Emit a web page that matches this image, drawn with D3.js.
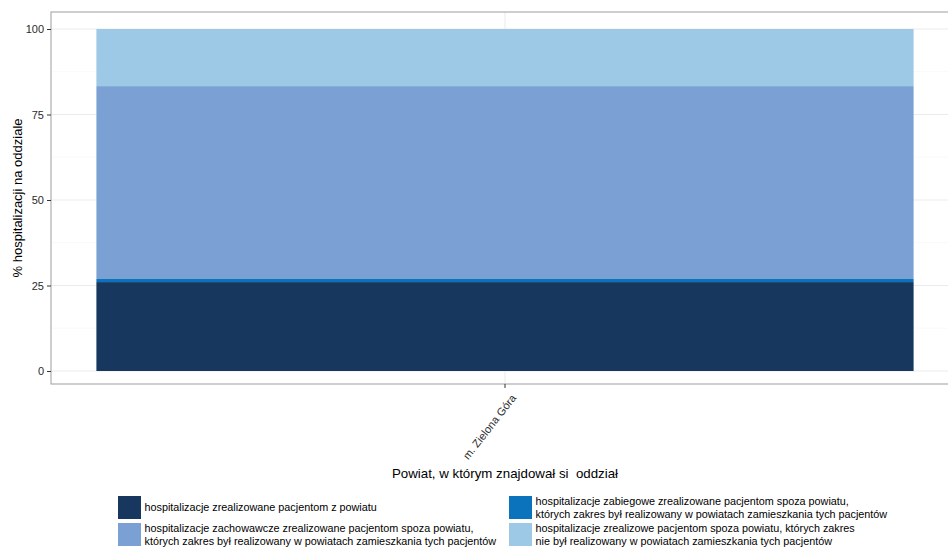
<!DOCTYPE html>
<html><head><meta charset="utf-8">
<script src="https://cdn.jsdelivr.net/npm/d3@7"></script>
<style>body{margin:0;background:#fff}svg{display:block;font-family:"Liberation Sans",Arial,sans-serif}</style>
</head><body>
<svg id="c" width="948" height="547"></svg>
<script>
const categories = ["m. Zielona Góra"];
const seriesNames = [
  "hospitalizacje zrealizowane pacjentom z powiatu",
  "hospitalizacje zabiegowe zrealizowane pacjentom spoza powiatu,\nktórych zakres był realizowany w powiatach zamieszkania tych pacjentów",
  "hospitalizacje zachowawcze zrealizowane pacjentom spoza powiatu,\nktórych zakres był realizowany w powiatach zamieszkania tych pacjentów",
  "hospitalizacje zrealizowe pacjentom spoza powiatu, których zakres\nnie był realizowany w powiatach zamieszkania tych pacjentów"
];
const seriesColors = ["#17375e", "#0a73bb", "#7ba1d4", "#9dc8e6"];
const values = [[26.0], [0.9], [56.4], [16.7]];
const yTicks = [0, 25, 50, 75, 100];
const yMinor = [12.5, 37.5, 62.5, 87.5];
const yTitle = "% hospitalizacji na oddziale";
const xTitle = "Powiat, w którym znajdował si  oddział";

const svg = d3.select("#c");
const P = {l: 51, r: 959, t: 12, b: 384};
const y = d3.scaleLinear().domain([0, 100]).range([371, 29]);
const x = d3.scaleBand().domain(categories).range([P.l, P.r]).paddingInner(0.1).paddingOuter(0.05);

// grid
svg.append("g").selectAll("line").data(yMinor).join("line")
  .attr("x1", P.l).attr("x2", P.r).attr("y1", d => y(d)).attr("y2", d => y(d))
  .attr("stroke", "#f5f5f5").attr("stroke-width", 0.6);
svg.append("g").selectAll("line").data(yTicks).join("line")
  .attr("x1", P.l).attr("x2", P.r).attr("y1", d => y(d)).attr("y2", d => y(d))
  .attr("stroke", "#ebebeb").attr("stroke-width", 1.1);
svg.append("g").selectAll("line").data(categories).join("line")
  .attr("x1", d => x(d) + x.bandwidth() / 2).attr("x2", d => x(d) + x.bandwidth() / 2)
  .attr("y1", P.t).attr("y2", P.b).attr("stroke", "#ebebeb").attr("stroke-width", 1.1);

// stacked bars
const stackData = categories.map((c, i) => {
  const o = {cat: c};
  values.forEach((v, s) => o["s" + s] = v[i]);
  return o;
});
const keys = values.map((v, s) => "s" + s);
const stacked = d3.stack().keys(keys)(stackData);
svg.append("g").selectAll("g").data(stacked).join("g")
  .attr("fill", (d, i) => seriesColors[i])
  .selectAll("rect").data(d => d).join("rect")
  .attr("x", d => x(d.data.cat)).attr("width", x.bandwidth())
  .attr("y", d => y(d[1])).attr("height", d => y(d[0]) - y(d[1]));

// panel border
svg.append("rect").attr("x", P.l).attr("y", P.t).attr("width", P.r - P.l).attr("height", P.b - P.t)
  .attr("fill", "none").attr("stroke", "#a6a6a6").attr("stroke-width", 1.1);

// y axis
const ya = svg.append("g").attr("transform", `translate(${P.l},0)`)
  .call(d3.axisLeft(y).tickValues(yTicks).tickSize(4).tickPadding(3));
ya.select(".domain").remove();
ya.selectAll("line").attr("stroke", "#333");
ya.selectAll("text").attr("font-size", 11).attr("fill", "#2b2b2b").attr("font-family", "Liberation Sans, Arial, sans-serif");

// x axis
const xa = svg.append("g").attr("transform", `translate(0,${P.b})`)
  .call(d3.axisBottom(x).tickSize(4).tickPadding(2));
xa.select(".domain").remove();
xa.selectAll("line").attr("stroke", "#333");
xa.selectAll("text").attr("font-size", 11).attr("fill", "#2b2b2b")
  .attr("font-family", "Liberation Sans, Arial, sans-serif")
  .attr("text-anchor", "end").attr("dy", "0.35em")
  .attr("transform", "translate(4,8) rotate(-52)");

// titles
svg.append("text").attr("transform", `translate(22,${(P.t + P.b) / 2}) rotate(-90)`)
  .attr("text-anchor", "middle").attr("font-size", 13).attr("fill", "#000").text(yTitle);
svg.append("text").attr("x", 505).attr("y", 478).attr("text-anchor", "middle")
  .style("white-space", "pre")
  .attr("font-size", 13.3).attr("fill", "#000").text(xTitle);

// legend
const legPos = [[118, 496], [509, 496], [118, 523], [509, 523]];
const lg = svg.append("g");
seriesNames.forEach((name, i) => {
  const [lx, ly] = legPos[i];
  lg.append("rect").attr("x", lx).attr("y", ly).attr("width", 23).attr("height", 23).attr("fill", seriesColors[i]);
  const lines = name.split("\n");
  const t = lg.append("text").attr("font-size", 10.8).attr("fill", "#000");
  const cy = ly + 11.5;
  const lh = 12.5;
  lines.forEach((ln, k) => {
    t.append("tspan").attr("x", lx + 26.5)
      .attr("y", cy + (k - (lines.length - 1) / 2) * lh)
      .attr("dy", "0.35em").text(ln);
  });
});
</script>
</body></html>
